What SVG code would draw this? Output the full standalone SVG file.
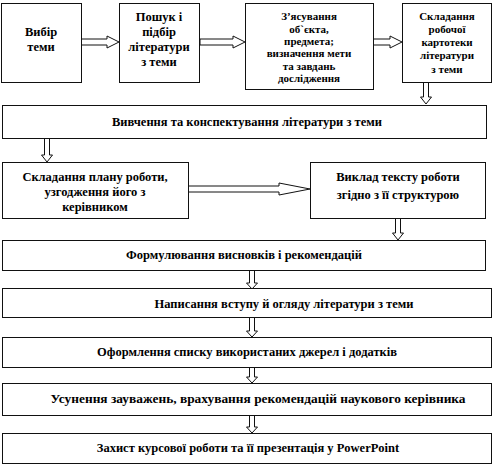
<svg xmlns="http://www.w3.org/2000/svg" width="494" height="466" viewBox="0 0 494 466">
<style>
.box{fill:#fff;stroke:#111;stroke-width:1}
.arr{fill:#fff;stroke:#111;stroke-width:1;stroke-linejoin:miter}
text{font-family:"Liberation Serif","Times New Roman",serif;font-weight:bold;font-size:12.5px;fill:#000;text-anchor:middle}
.sm{font-size:11px}
</style>
<rect width="494" height="466" fill="#fff"/>
<g id="connectors">
<path class="arr" d="M81 39 L107 39 L107 36 L119 42 L107 48 L107 45 L81 45 Z"/>
<path class="arr" d="M200 39 L233 39 L233 36 L245 42 L233 48 L233 45 L200 45 Z"/>
<path class="arr" d="M373 39 L390 39 L390 36 L402 42 L390 48 L390 45 L373 45 Z"/>
<path class="arr" d="M423.5 82 L423.5 97 L420.5 97 L426 104 L431.5 97 L428.5 97 L428.5 82 Z"/>
<path class="arr" d="M44.5 138 L44.5 155 L41.5 155 L47 162 L52.5 155 L49.5 155 L49.5 138 Z"/>
<path class="arr" d="M188 186 L279 186 L279 183 L310 189 L279 195 L279 192 L188 192 Z"/>
<path class="arr" d="M395.5 218 L395.5 233 L392.5 233 L398 240 L403.5 233 L400.5 233 L400.5 218 Z"/>
<path class="arr" d="M249.5 270 L249.5 283 L246.5 283 L252 289 L257.5 283 L254.5 283 L254.5 270 Z"/>
<path class="arr" d="M249.5 317 L249.5 331 L246.5 331 L252 337 L257.5 331 L254.5 331 L254.5 317 Z"/>
<path class="arr" d="M249.5 367 L249.5 377 L246.5 377 L252 383 L257.5 377 L254.5 377 L254.5 367 Z"/>
<path class="arr" d="M249.5 415 L249.5 427 L246.5 427 L252 433 L257.5 427 L254.5 427 L254.5 415 Z"/>
</g>
<g id="n1"><rect class="box" x="1.5" y="3.5" width="80" height="79"/>
<text x="41" y="36">Вибір</text><text x="41" y="51">теми</text></g>
<g id="n2"><rect class="box" x="119.5" y="3.5" width="80" height="79"/>
<text x="159" y="21">Пошук і</text><text x="159" y="36">підбір</text><text x="159" y="51">літератури</text><text x="159" y="66">з теми</text></g>
<g id="n3"><rect class="box" x="245.5" y="3.5" width="128" height="86"/>
<text class="sm" x="309" y="20">З’ясування</text><text class="sm" x="309" y="33">об`єкта,</text><text class="sm" x="309" y="45">предмета;</text><text class="sm" x="309" y="57">визначення мети</text><text class="sm" x="309" y="70">та завдань</text><text class="sm" x="309" y="82">дослідження</text></g>
<g id="n4"><rect class="box" x="402.5" y="3.5" width="89" height="79"/>
<text class="sm" x="447" y="20">Складання</text><text class="sm" x="447" y="33">робочої</text><text class="sm" x="447" y="46">картотеки</text><text class="sm" x="447" y="59">літератури</text><text class="sm" x="447" y="73">з теми</text></g>
<g id="n5"><rect class="box" x="2.5" y="105.5" width="484" height="33"/>
<text x="247" y="126">Вивчення та конспектування літератури з теми</text></g>
<g id="n6"><rect class="box" x="2.5" y="162.5" width="186" height="56"/>
<text x="95" y="181">Складання плану роботи,</text><text x="95" y="196">узгодження його з</text><text x="95" y="211">керівником</text></g>
<g id="n7"><rect class="box" x="310.5" y="162.5" width="175" height="56"/>
<text x="398" y="181">Виклад тексту роботи</text><text x="398" y="199">згідно з її структурою</text></g>
<g id="n8"><rect class="box" x="2.5" y="240.5" width="483" height="30"/>
<text x="244" y="259">Формулювання висновків і рекомендацій</text></g>
<g id="n9"><rect class="box" x="2.5" y="288.5" width="489" height="29"/>
<text x="284" y="308">Написання вступу й огляду літератури з теми</text></g>
<g id="n10"><rect class="box" x="2.5" y="337.5" width="489" height="30"/>
<text x="247" y="356">Оформлення списку використаних  джерел і додатків</text></g>
<g id="n11"><rect class="box" x="2.5" y="383.5" width="489" height="32"/>
<text x="258" y="403" style="font-size:13.4px">Усунення зауважень, врахування рекомендацій наукового керівника</text></g>
<g id="n12"><rect class="box" x="2.5" y="433.5" width="489" height="30"/>
<text x="248" y="452">Захист курсової роботи та її презентація у PowerPoint</text></g>
</svg>
